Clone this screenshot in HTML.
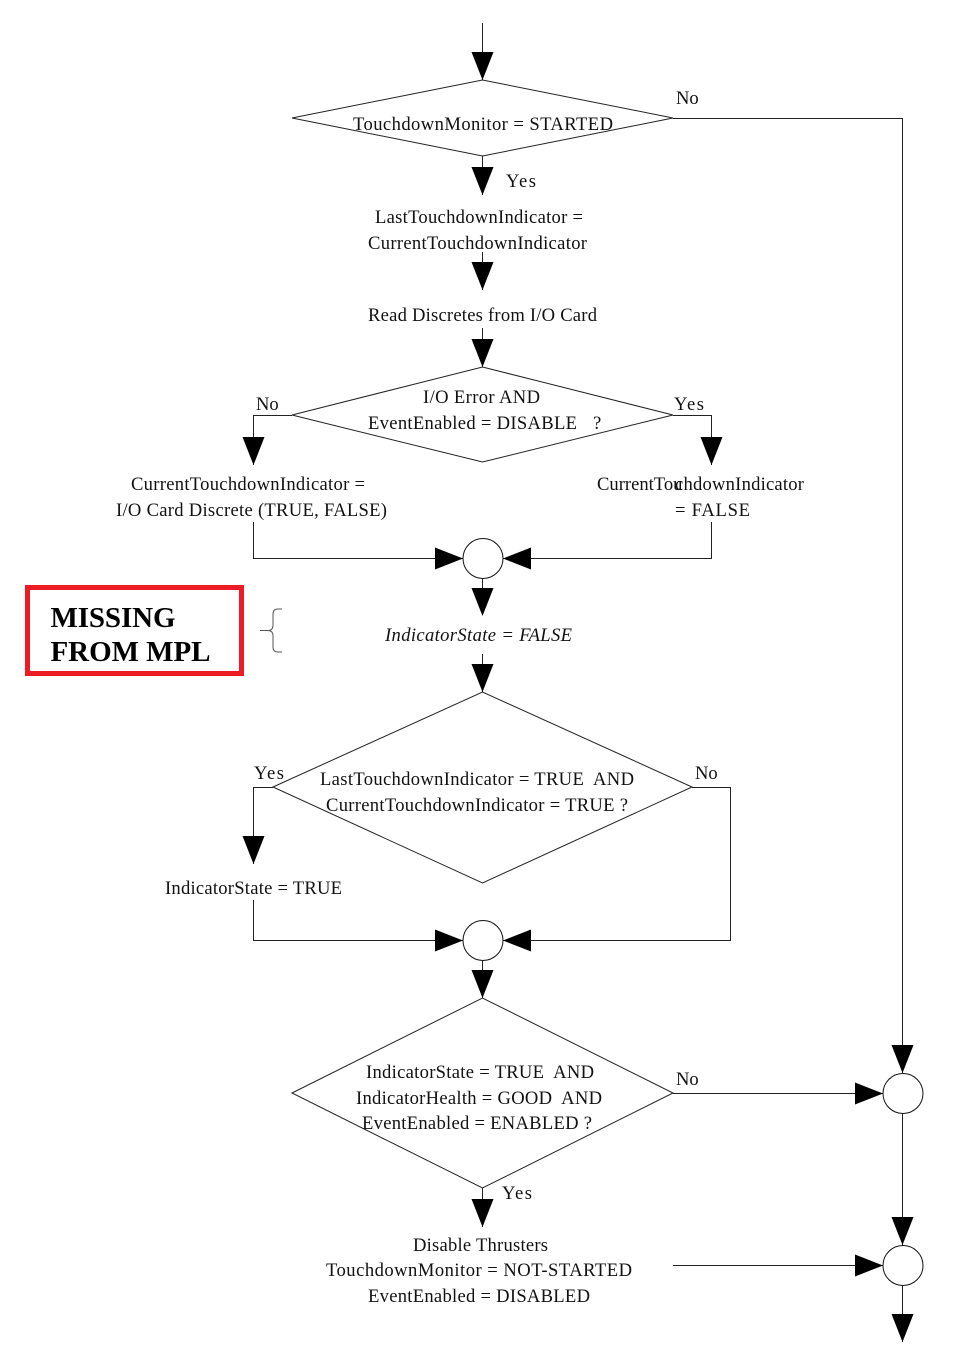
<!DOCTYPE html>
<html><head><meta charset="utf-8"><style>html,body{margin:0;padding:0;background:#fff}svg{display:block}text{font-family:"Liberation Serif",serif;font-size:18.6px;fill:#111;white-space:pre}.l{fill:none;stroke:#222;stroke-width:1}.c{fill:#fff;stroke:#111;stroke-width:1}</style></head>
<body>
<svg width="975" height="1372" viewBox="0 0 975 1372" xmlns="http://www.w3.org/2000/svg">
<defs>
<polygon id="d" points="-11,-28 11,-28 0,0" fill="#000"/>
<polygon id="r" points="-28,-11 -28,11 0,0" fill="#000"/>
<polygon id="lf" points="28,-11 28,11 0,0" fill="#000"/>
</defs>
<!-- lines -->
<path class="l" d="M482.5 23V80M482.5 156V195M482.5 252V290M482.5 328V367M482.5 654V692M482.5 960V998M482.5 1188V1227M482.5 578V615"/>
<path class="l" d="M292 118L482.5 80L673 118L482.5 156Z"/>
<path class="l" d="M292 415L482.5 367L673 415L482.5 462Z"/>
<path class="l" d="M273 787L482.5 692L692 787L482.5 883Z"/>
<path class="l" d="M292 1093L482.5 998L673 1093L482.5 1188Z"/>
<path class="l" d="M673 118.500H902.500V1073"/>
<path class="l" d="M292 415.500H253.500V465M673 415.500H711.500V465"/>
<path class="l" d="M253.500 522V558.500H463M711.500 522V558.500H503"/>
<path class="l" d="M273 787.500H253.500V864M692 787.500H730.500V940.500H503"/>
<path class="l" d="M253.500 900V940.500H463"/>
<path class="l" d="M673 1093.500H883M673 1265.500H883M902.500 1113V1246M902.500 1285V1342"/>
<!-- arrowheads -->
<use href="#d" x="482.500" y="80"/>
<use href="#d" x="482.500" y="195"/>
<use href="#d" x="482.500" y="290"/>
<use href="#d" x="482.500" y="367"/>
<use href="#d" x="253.500" y="465"/>
<use href="#d" x="711.500" y="465"/>
<use href="#r" x="463" y="558.500"/>
<use href="#lf" x="503" y="558.500"/>
<use href="#d" x="482.500" y="616"/>
<use href="#d" x="482.500" y="692"/>
<use href="#d" x="253.500" y="864"/>
<use href="#r" x="463" y="940.500"/>
<use href="#lf" x="503" y="940.500"/>
<use href="#d" x="482.500" y="998"/>
<use href="#d" x="902.500" y="1073"/>
<use href="#r" x="883" y="1093.500"/>
<use href="#d" x="482.500" y="1227"/>
<use href="#d" x="902.500" y="1245"/>
<use href="#r" x="883" y="1265.500"/>
<use href="#d" x="902.500" y="1342"/>
<!-- circles -->
<circle class="c" cx="483" cy="558.500" r="20"/>
<circle class="c" cx="483" cy="940.500" r="20"/>
<circle class="c" cx="903" cy="1093.500" r="20"/>
<circle class="c" cx="903" cy="1265.500" r="20"/>
<!-- red box -->
<rect x="27.500" y="587.500" width="214" height="86" fill="none" stroke="#ed1c24" stroke-width="5"/>
<text x="50.500" y="627" style="font-size:29px;font-weight:bold;fill:#000" textLength="125">MISSING</text>
<text x="50.500" y="661" style="font-size:29px;font-weight:bold;fill:#000" textLength="160">FROM MPL</text>
<path d="M282 609H278Q273 609 273 614V625Q273 630.500 268 630.500H260M268 630.500Q273 630.500 273 636V647Q273 652 278 652H282" fill="none" stroke="#555" stroke-width="1"/>
<!-- labels -->
<text x="676" y="104">No</text>
<text x="353" y="130" textLength="260">TouchdownMonitor = STARTED</text>
<text x="506" y="187" textLength="30">Yes</text>
<text x="375" y="223" textLength="208">LastTouchdownIndicator =</text>
<text x="368" y="249" textLength="219">CurrentTouchdownIndicator</text>
<text x="368" y="321" textLength="229">Read Discretes from I/O Card</text>
<text x="423" y="403" textLength="117">I/O Error AND</text>
<text x="368" y="429" textLength="209">EventEnabled = DISABLE</text>
<text x="593" y="429">?</text>
<text x="256" y="410">No</text>
<text x="674" y="410" textLength="30">Yes</text>
<text x="131" y="490" textLength="234">CurrentTouchdownIndicator =</text>
<text x="116" y="516" textLength="271">I/O Card Discrete (TRUE, FALSE)</text>
<text x="597" y="490">CurrentTou</text>
<text x="675" y="490" textLength="129">chdownIndicator</text>
<text x="675" y="516" textLength="75">= FALSE</text>
<text x="385" y="641" textLength="187" style="font-style:italic">IndicatorState = FALSE</text>
<text x="254" y="779" textLength="30">Yes</text>
<text x="695" y="779">No</text>
<text x="320" y="785" textLength="314">LastTouchdownIndicator = TRUE  AND</text>
<text x="326" y="811" textLength="302">CurrentTouchdownIndicator = TRUE ?</text>
<text x="165" y="894" textLength="177">IndicatorState = TRUE</text>
<text x="366" y="1078" textLength="228">IndicatorState = TRUE  AND</text>
<text x="356" y="1104" textLength="246">IndicatorHealth = GOOD  AND</text>
<text x="362" y="1129" textLength="230">EventEnabled = ENABLED ?</text>
<text x="676" y="1085">No</text>
<text x="502" y="1199" textLength="30">Yes</text>
<text x="413" y="1251" textLength="135">Disable Thrusters</text>
<text x="326" y="1276" textLength="306">TouchdownMonitor = NOT-STARTED</text>
<text x="368" y="1302" textLength="222">EventEnabled = DISABLED</text>
</svg>
</body></html>
